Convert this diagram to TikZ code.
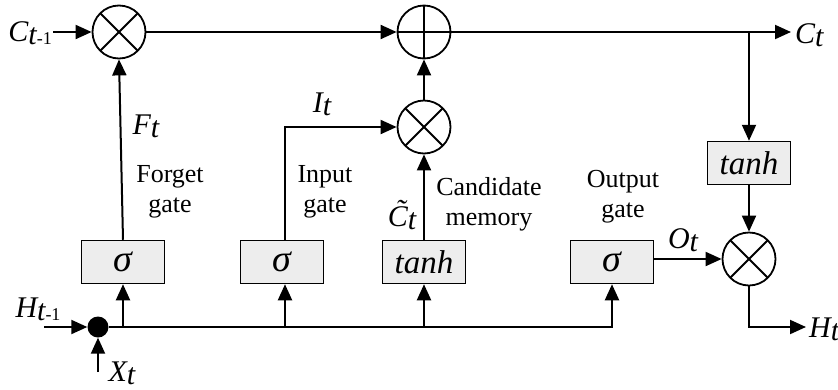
\documentclass[tikz,border=0pt]{standalone}
\usepackage{fontspec}
\setmainfont{Liberation Serif}
\usetikzlibrary{arrows.meta}
\newcommand\lsub[1]{\raisebox{-3pt}{\fontsize{18}{18}\selectfont #1}}
\newcommand\vv[1]{{\fontsize{30}{32}\selectfont\itshape #1}}
\newcommand\bx[1]{{\fontsize{33}{34}\selectfont\itshape #1}}
\newcommand\sg{{\fontsize{38}{38}\selectfont\itshape σ}}
\begin{document}
\begin{tikzpicture}[x=1pt,y=-1pt,
  font=\fontsize{26}{30}\selectfont,
  arr/.style={line width=2pt,-{Triangle[length=16pt,width=14pt]}},
  op/.style={circle,draw,line width=1.8pt,minimum size=53pt,inner sep=0pt},
  mult/.style={op,path picture={
     \draw[line width=1.8pt] (path picture bounding box.north east) -- (path picture bounding box.south west);
     \draw[line width=1.8pt] (path picture bounding box.north west) -- (path picture bounding box.south east);}},
  add/.style={op,path picture={
     \draw[line width=1.8pt] (path picture bounding box.north) -- (path picture bounding box.south);
     \draw[line width=1.8pt] (path picture bounding box.east) -- (path picture bounding box.west);}},
  gatebox/.style={draw,line width=1.5pt,fill=black!7,minimum width=83pt,minimum height=43pt,inner sep=0pt},
  lbl/.style={inner sep=1pt},
  txt/.style={align=center,inner sep=1pt}
]
\useasboundingbox (0,0) rectangle (838,389);

% operators
\node[mult] (m1) at (119,32) {};
\node[add] (plus) at (424,32) {};
\node[mult] (m2) at (424,127) {};
\node[mult] (m3) at (749,259) {};
\node[circle,fill=black,minimum size=21pt,inner sep=0pt] (dot) at (98,327) {};

% boxes
\node[gatebox] (fbox) at (123,262) {\sg};
\node[gatebox] (ibox) at (282,262) {\sg};
\node[gatebox] (cbox) at (424,262) {\bx{tanh}};
\node[gatebox] (obox) at (612,262) {\sg};
\node[gatebox] (tbox) at (749,163) {\bx{tanh}};

% labels
\node[lbl,anchor=east] (cin) at (53,33) {\vv{C}\lsub{\vv{t}-1}};
\node[lbl,anchor=west] (cout) at (794,35) {\vv{C}\lsub{\vv{t}}};
\node[lbl,anchor=west] (hout) at (808,329) {\vv{H}\lsub{\vv{t}}};
\node[lbl] (hin) at (38,309) {\vv{H}\lsub{\vv{t}-1}};
\node[lbl] (xin) at (122,373) {\vv{X}\lsub{\vv{t}}};
\node[lbl] (ft) at (146,126) {\vv{F}\lsub{\vv{t}}};
\node[lbl] (it) at (322,104) {\vv{I}\lsub{\vv{t}}};
\node[lbl] (ctt) at (402,215) {\vv{C̃}\lsub{\vv{t}}};
\node[lbl] (ot) at (683,240) {\vv{O}\lsub{\vv{t}}};
\node[txt] (fg) at (170,192) {Forget\\gate};
\node[txt] (ig) at (325,192) {Input\\gate};
\node[txt] (cm) at (489,204) {Candidate\\memory};
\node[txt] (og) at (623,197) {Output\\gate};

% coordinates
\coordinate (hstart) at (44,327);
\coordinate (xstart) at (98,372);
\coordinate (br) at (749,32);
\coordinate (tapf) at (123,327);
\coordinate (tapi) at (285,327);
\coordinate (tapc) at (424,327);
\coordinate (cend) at (791,32);
\coordinate (hend) at (806,327);

% connectors
\draw[arr] (cin.east |- m1) -- (m1.west);
\draw[arr] (m1.east) -- (plus.west);
\draw[arr] (plus.east) -- (cend);
\draw[arr] (br) -- (tbox.north);
\draw[arr] (tbox.south) -- (m3.north);
\draw[arr] (m3.south) |- (hend);
\draw[arr] (obox.east |- m3) -- (m3.west);
\draw[arr] (dot.east) -| (obox.south);
\draw[arr] (hstart) -- (dot.west);
\draw[arr] (xstart) -- (dot.south);
\draw[arr] (tapf) -- (fbox.south);
\draw[arr] (tapi) -- (tapi |- ibox.south);
\draw[arr] (tapc) -- (cbox.south);
\draw[arr] (fbox.north) -- (m1.south);
\draw[arr] (tapi |- ibox.north) |- (m2.west);
\draw[arr] (cbox.north) -- (m2.south);
\draw[arr] (m2.north) -- (plus.south);
\end{tikzpicture}
\end{document}
